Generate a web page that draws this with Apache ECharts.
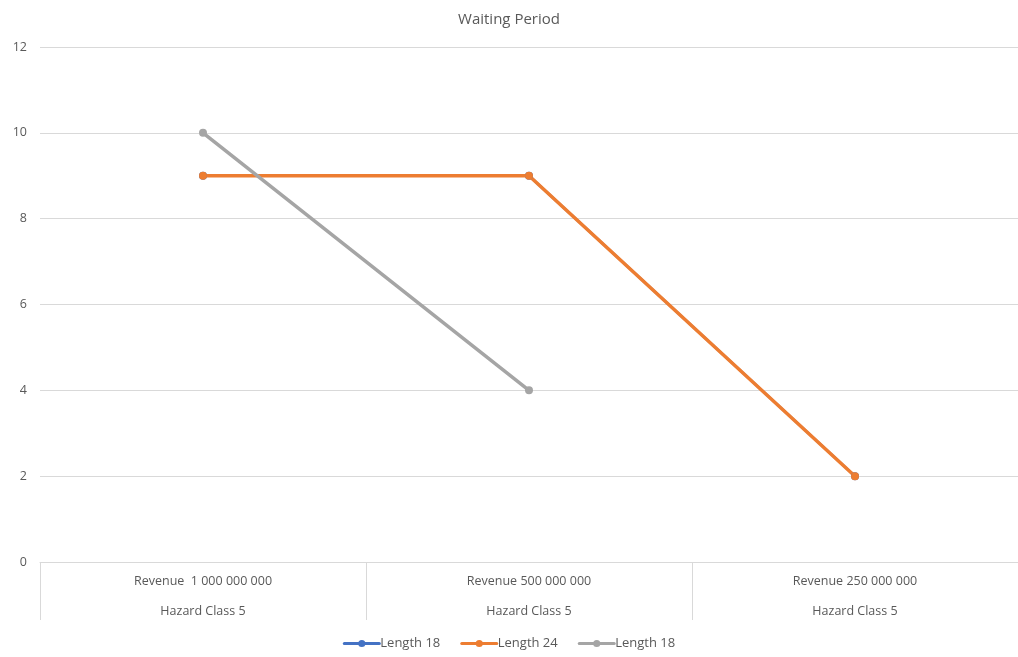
<!DOCTYPE html>
<html><head><meta charset="utf-8">
<script src="https://cdn.jsdelivr.net/npm/echarts@6/dist/echarts.min.js"></script>
<style>html,body{margin:0;padding:0;background:#fff}#c{width:1018px;height:657px}</style>
</head><body><div id="c"></div>
<script>
const categories = ['Revenue  1 000 000 000', 'Revenue 500 000 000', 'Revenue 250 000 000'];
const subCategories = ['Hazard Class 5', 'Hazard Class 5', 'Hazard Class 5'];
const yTicks = [0, 2, 4, 6, 8, 10, 12];
const seriesNames = ['Length 18', 'Length 24', 'Length 18'];
const blue18 = [9, 9, 2];
const orange24 = [9, 9, 2];
const gray18 = [10, 4, null];
const colors = ['#4472C4', '#ED7D31', '#A5A5A5'];

const font = 'Open Sans, Noto Sans, sans-serif';
const chart = echarts.init(document.getElementById('c'));
// unique internal ids so duplicate display names stay separate in the legend
const ids = seriesNames.map((n, i) => n + '\u200b'.repeat(i));
const mk = (i, data, w) => ({
  name: ids[i], type: 'line', data, color: colors[i],
  symbol: 'circle', symbolSize: 8,
  lineStyle: { width: w, color: colors[i], cap: 'round' },
  itemStyle: { color: colors[i] },
  connectNulls: false
});
chart.setOption({
  animation: false,
  title: { text: 'Waiting Period', left: 'center', top: 7,
    textStyle: { fontFamily: font, fontSize: 15, fontWeight: 'normal', color: '#595959' } },
  grid: { left: 40, right: 0, top: 47, bottom: 95 },
  legend: {
    bottom: 2, left: 'center', itemWidth: 35, itemHeight: 9, itemGap: 20,
    data: ids.map(n => ({ name: n })),
    formatter: n => n.replace(/\u200b/g, ''),
    lineStyle: { width: 3 },
    textStyle: { fontFamily: font, fontSize: 13, color: '#595959', padding: [0,0,0,-4] }
  },
  xAxis: {
    type: 'category', data: categories.map((c, i) => c + '\n' + subCategories[i]),
    boundaryGap: true,
    axisLine: { show: true, lineStyle: { color: '#D9D9D9', width: 1 } },
    axisTick: { show: true, length: 58, alignWithLabel: false, lineStyle: { color: '#D9D9D9' } },
    axisLabel: { fontFamily: font, fontSize: 12.5, color: '#595959', lineHeight: 30, margin: 4, interval: 0 }
  },
  yAxis: {
    type: 'value', min: yTicks[0], max: yTicks[yTicks.length - 1], interval: 2,
    axisLine: { show: false }, axisTick: { show: false },
    splitLine: { lineStyle: { color: '#D9D9D9', width: 1 } },
    axisLabel: { fontFamily: font, fontSize: 12.5, color: '#595959', margin: 13 }
  },
  series: [mk(0, blue18, 2.5), mk(1, orange24, 3.5), mk(2, gray18, 3.5)]
});
</script></body></html>
